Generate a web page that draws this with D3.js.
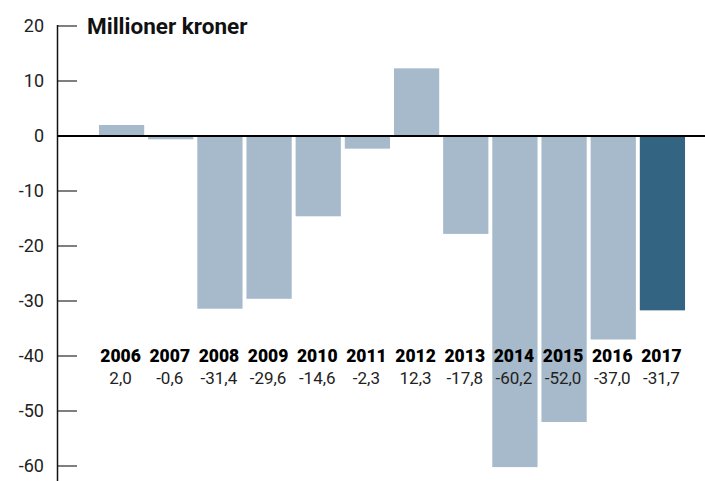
<!DOCTYPE html>
<html>
<head>
<meta charset="utf-8">
<script src="https://cdn.jsdelivr.net/npm/d3@7"></script>
<style>
  body { margin: 0; background: #fff; }
  text { font-family: Roboto, "DejaVu Sans", sans-serif; }
</style>
</head>
<body>
<svg id="chart" width="705" height="481"></svg>
<script>
// data
var years = ["2006","2007","2008","2009","2010","2011","2012","2013","2014","2015","2016","2017"];
var values = [2.0, -0.6, -31.4, -29.6, -14.6, -2.3, 12.3, -17.8, -60.2, -52.0, -37.0, -31.7];
var valueLabels = ["2,0","-0,6","-31,4","-29,6","-14,6","-2,3","12,3","-17,8","-60,2","-52,0","-37,0","-31,7"];
var tickValues = [20, 10, 0, -10, -20, -30, -40, -50, -60];

var svg = d3.select("#chart");

var y = d3.scaleLinear().domain([20, -60]).range([26, 466]);
var x = d3.scaleBand().domain(years).range([97, 687]).paddingInner(0.08).paddingOuter(0.04);

// bars
svg.selectAll("rect.bar")
  .data(years)
  .enter()
  .append("rect")
  .attr("class", "bar")
  .attr("x", function(d) { return x(d); })
  .attr("width", x.bandwidth())
  .attr("y", function(d, i) { return y(Math.max(0, values[i])); })
  .attr("height", function(d, i) { return Math.abs(y(values[i]) - y(0)); })
  .attr("fill", function(d, i) { return i == years.length - 1 ? "#336582" : "#a6bacb"; });

// y axis
var axis = d3.axisLeft(y)
  .tickValues(tickValues)
  .tickSize(0)
  .tickPadding(0)
  .tickFormat(function(d) { return d; });

var g = svg.append("g").attr("transform", "translate(58,0)").call(axis);
g.select(".domain").remove();
g.selectAll("text")
  .attr("x", -14)
  .attr("font-size", 18)
  .attr("fill", "#222");

svg.selectAll("line.tick")
  .data(tickValues.filter(function(d) { return d != 0; }))
  .enter()
  .append("line")
  .attr("x1", 58).attr("x2", 77)
  .attr("y1", function(d) { return y(d); })
  .attr("y2", function(d) { return y(d); })
  .attr("stroke", "#555")
  .attr("stroke-width", 1.5);

svg.append("line")
  .attr("x1", 57.5).attr("x2", 57.5)
  .attr("y1", y(20) - 1).attr("y2", 481)
  .attr("stroke", "#111")
  .attr("stroke-width", 1.5);

// zero line
svg.append("line")
  .attr("x1", 57).attr("x2", 705)
  .attr("y1", y(0)).attr("y2", y(0))
  .attr("stroke", "#000")
  .attr("stroke-width", 2);

// title
svg.append("text")
  .attr("x", 87).attr("y", 34)
  .attr("font-size", 22.5)
  .attr("font-weight", "bold")
  .attr("fill", "#111")
  .text("Millioner kroner");

// year labels + value labels
svg.selectAll("text.year")
  .data(years)
  .enter()
  .append("text")
  .attr("class", "year")
  .attr("x", function(d) { return x(d) + x.bandwidth() / 2 - 1; })
  .attr("y", 362)
  .attr("text-anchor", "middle")
  .attr("font-size", 17.5)
  .attr("font-weight", 900)
  .attr("fill", "#000")
  .text(function(d) { return d; });

svg.selectAll("text.val")
  .data(valueLabels)
  .enter()
  .append("text")
  .attr("class", "val")
  .attr("x", function(d, i) { return x(years[i]) + x.bandwidth() / 2 - 1; })
  .attr("y", 384)
  .attr("text-anchor", "middle")
  .attr("font-size", 17)
  .attr("fill", "#222")
  .text(function(d) { return d; });
</script>
</body>
</html>
